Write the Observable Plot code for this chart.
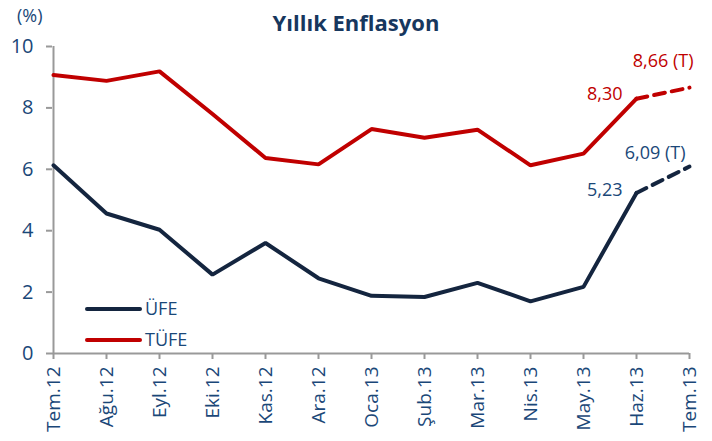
<!DOCTYPE html>
<html><head><meta charset="utf-8">
<script src="https://cdn.jsdelivr.net/npm/d3@7"></script>
<script src="https://cdn.jsdelivr.net/npm/@observablehq/plot@0.6"></script>
<style>
body{margin:0;background:#fff;font-family:"Open Sans",sans-serif;}
#wrap{position:relative;width:712px;height:441px;}
#title{position:absolute;left:0;top:7px;width:712px;text-align:center;font-weight:bold;font-size:22px;line-height:30px;color:#17375e;letter-spacing:0px;}
#unit{position:absolute;left:17px;top:3px;font-size:18px;line-height:24px;color:#1a4778;}
</style></head><body>
<div id="wrap"><div id="title">Yıllık Enflasyon</div><div id="unit">(%)</div><div id="chart"></div></div>
<script>
const months = ["Tem.12","Ağu.12","Eyl.12","Eki.12","Kas.12","Ara.12","Oca.13","Şub.13","Mar.13","Nis.13","May.13","Haz.13","Tem.13"];
const ufe  = [6.13,4.56,4.03,2.57,3.60,2.45,1.88,1.84,2.30,1.70,2.17,5.23,6.09];
const tufe = [9.07,8.88,9.19,7.80,6.37,6.16,7.31,7.03,7.29,6.13,6.51,8.30,8.66];
const yTicks = [0,2,4,6,8,10];
const labels = [
  {m:"Tem.13", v:8.66, t:"8,66 (T)", s:"TÜFE", dx:4, dy:-26},
  {m:"Haz.13", v:8.30, t:"8,30", s:"TÜFE", dx:-14, dy:-4},
  {m:"Tem.13", v:6.09, t:"6,09 (T)", s:"ÜFE", dx:-4, dy:-13},
  {m:"Haz.13", v:5.23, t:"5,23", s:"ÜFE", dx:-14, dy:-3}
];
const colors = {"ÜFE":"#14253f","TÜFE":"#c00000"};
const labelColors = {"ÜFE":"#1a4778","TÜFE":"#c00000"};
const textCol = "#1a4778";
const rows = [];
months.forEach((m,i)=>{rows.push({m,i,v:ufe[i],s:"ÜFE"});rows.push({m,i,v:tufe[i],s:"TÜFE"});});
const solid = rows.filter(d=>d.i<=11);
const dashed = rows.filter(d=>d.i>=11);

const plot = Plot.plot({
  width:712, height:441,
  marginLeft:52, marginRight:23, marginTop:46, marginBottom:88,
  style:{fontFamily:"Open Sans, sans-serif", background:"transparent"},
  x:{type:"point", domain:months, padding:0},
  y:{domain:[0,10]},
  marks:[
    Plot.ruleY([0],{stroke:"#999",strokeWidth:2}),
    Plot.ruleX([months[0]],{stroke:"#999",strokeWidth:2}),
    Plot.axisY(yTicks,{tickSize:6,stroke:"#999",strokeWidth:2,tickPadding:13,fontSize:20,fill:textCol,label:null}),
    Plot.axisX(months,{tickSize:6,stroke:"#999",strokeWidth:2,tickRotate:-90,fontSize:19,fill:textCol,tickPadding:7,label:null}),
    Plot.line(solid,{x:"m",y:"v",z:"s",stroke:d=>colors[d.s],strokeWidth:4,strokeLinejoin:"miter"}),
    Plot.line(dashed,{x:"m",y:"v",z:"s",stroke:d=>colors[d.s],strokeWidth:4,strokeDasharray:"11,7"}),
    Plot.text(labels,{x:"m",y:"v",text:"t",fill:d=>labelColors[d.s],textAnchor:"end",fontSize:18})
  ]
});
document.getElementById("chart").appendChild(plot);
const txt = d3.select(plot).selectAll("text").filter(function(){return labels.some(l=>l.t===this.textContent);});
txt.each(function(){const l=labels.find(l=>l.t===this.textContent);
  const tr=this.getAttribute("transform")||"";
  this.setAttribute("transform", tr+` translate(${l.dx},${l.dy})`);});
const svg = d3.select(plot);
const leg = [{s:"ÜFE",y:309},{s:"TÜFE",y:340}];
leg.forEach(l=>{
  svg.append("line").attr("x1",87).attr("x2",140).attr("y1",l.y).attr("y2",l.y).attr("stroke",colors[l.s]).attr("stroke-width",4).attr("stroke-linecap","round");
  svg.append("text").attr("x",145).attr("y",l.y).attr("dy","0.35em").attr("text-anchor","start").attr("fill",textCol).attr("font-size",18).text(l.s);
});
</script></body></html>
